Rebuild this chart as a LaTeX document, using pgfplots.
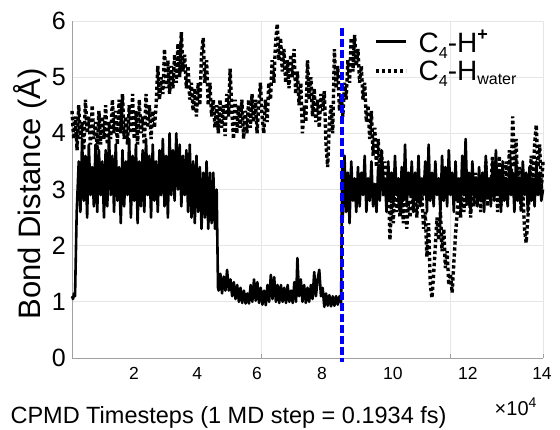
\documentclass[border=0pt]{standalone}
\usepackage{fontspec}
\setmainfont{Liberation Sans}
\usepackage{pgfplots}
\pgfplotsset{compat=1.18}
\definecolor{gridc}{RGB}{230,230,230}
\definecolor{axc}{RGB}{160,160,160}
\newcommand{\fs}[1]{\fontsize{#1}{#1}\selectfont}
\begin{document}
\begin{tikzpicture}
\path[use as bounding box] (0,0) rectangle (560pt,430pt);
\begin{axis}[
  at={(72pt,72pt)}, anchor=south west,
  width=471pt, height=337pt, scale only axis,
  xmin=0, xmax=14, ymin=0, ymax=6,
  clip=false,
  axis x line*=bottom, axis y line*=left,
  axis line style={-, draw=axc, line width=0.9pt},
  xtick={1.84,3.72,5.50,7.43,9.54,11.77,13.97},
  xticklabels={2,4,6,8,10,12,14},
  ytick={0,1,2,3,4,5,6},
  yticklabels={0,1,2,3,4,5,6},
  major tick length=0pt,
  extra x ticks={5.62,11.24,14},
  extra x tick labels={},
  extra x tick style={grid=major, major tick length=4pt, tick style={draw=axc}},
  ymajorgrids,
  grid style={draw=gridc, line width=0.9pt},
  xticklabel style={font=\fs{17.5}, inner sep=0pt, yshift=-9pt},
  yticklabel style={font=\fs{25}, inner sep=0pt, xshift=-6pt},
  ylabel={Bond Distance (Å)},
  ylabel style={font=\fs{31}, at={(axis description cs:-0.089,0.487)}, anchor=center},
  xlabel={CPMD Timesteps (1 MD step = 0.1934 fs)},
  xlabel style={font=\fs{23.5}, at={(axis description cs:-0.138,-0.193)}, anchor=base west},
  legend style={draw=none, fill=none, at={(axis description cs:0.635,0.987)}, anchor=north west, font=\fs{28}, row sep=3pt, column sep=9pt},
  legend cell align=left,
  legend image code/.code={\draw[#1] (0pt,0pt) -- (30pt,0pt);},
]
\addplot[black, line width=2.6pt, line join=round] coordinates {
(0.00,1.10) (0.03,1.05) (0.06,1.15) (0.09,1.10) (0.14,2.60)
(0.20,3.5) (0.25,2.6) (0.30,3.9) (0.35,2.8) (0.40,3.6) (0.45,2.5) (0.50,3.8) (0.55,2.9) (0.60,3.4) (0.65,2.7)
(0.70,3.8) (0.75,2.6) (0.80,3.7) (0.85,2.9) (0.90,3.5) (0.95,2.5) (1.00,3.7) (1.05,2.7) (1.10,4.0) (1.15,2.9)
(1.20,3.6) (1.25,2.6) (1.30,3.8) (1.35,2.8) (1.40,3.4) (1.45,2.4) (1.50,3.7) (1.55,2.7) (1.60,3.5) (1.65,2.9)
(1.70,3.9) (1.75,2.5) (1.80,3.6) (1.85,2.8) (1.90,3.8) (1.95,2.4) (2.00,3.5) (2.05,2.7) (2.10,3.7) (2.15,2.6)
(2.20,3.9) (2.25,2.9) (2.30,3.6) (2.35,2.5) (2.40,3.8) (2.45,2.8) (2.50,3.5) (2.55,2.6) (2.60,3.7) (2.65,2.9)
(2.70,3.9) (2.75,2.7) (2.80,3.6) (2.85,2.5) (2.90,4.0) (2.95,2.9) (3.00,3.7) (3.05,2.8) (3.10,4.0) (3.15,3.0)
(3.20,3.8) (3.25,2.7) (3.30,3.6) (3.35,2.9) (3.40,3.7) (3.45,2.6) (3.50,3.8) (3.55,2.5) (3.60,3.5) (3.65,2.4)
(3.70,3.6) (3.75,2.6) (3.80,3.4) (3.85,2.3) (3.90,3.3) (3.95,2.5) (4.00,3.5) (4.05,2.3) (4.10,3.3) (4.15,2.4)
(4.20,3.3) (4.25,2.3) (4.30,3.0) (4.34,1.25)
(4.36,1.2) (4.41,1.5) (4.46,1.15) (4.51,1.45) (4.56,1.2) (4.61,1.57) (4.66,1.2) (4.71,1.4) (4.76,1.1) (4.81,1.35)
(4.86,1.05) (4.91,1.3) (4.96,1.0) (5.01,1.25) (5.06,0.98) (5.11,1.2) (5.16,0.97) (5.21,1.15) (5.26,0.97) (5.31,1.3)
(5.36,1.0) (5.41,1.4) (5.46,1.02) (5.51,1.35) (5.56,0.98) (5.61,1.25) (5.66,0.95) (5.71,1.2) (5.76,0.94) (5.81,1.3)
(5.86,1.0) (5.91,1.48) (5.96,1.05) (6.01,1.44) (6.06,1.0) (6.11,1.3) (6.16,0.98) (6.21,1.3) (6.26,1.0) (6.31,1.25)
(6.36,0.98) (6.41,1.3) (6.46,1.0) (6.51,1.2) (6.56,0.98) (6.61,1.35) (6.66,1.0) (6.70,1.78) (6.75,1.1) (6.80,1.4)
(6.85,1.0) (6.90,1.3) (6.95,0.98) (7.00,1.25) (7.05,1.0) (7.10,1.3) (7.15,1.05) (7.20,1.53) (7.25,1.1) (7.30,1.4)
(7.35,1.57) (7.40,1.1) (7.45,1.25) (7.50,0.91) (7.55,1.15) (7.60,0.93) (7.65,1.12) (7.70,0.92) (7.75,1.1) (7.80,0.93)
(7.85,1.1) (7.90,0.95) (7.95,1.1) (8.00,0.98) (8.03,3.5)
(8.05,2.5) (8.10,3.6) (8.15,2.6) (8.20,3.3) (8.25,2.4) (8.30,3.5) (8.35,2.8) (8.40,3.2) (8.45,2.6) (8.50,3.4)
(8.55,2.7) (8.60,3.3) (8.65,2.9) (8.70,3.6) (8.75,2.6) (8.80,3.2) (8.85,2.8) (8.90,3.5) (8.95,2.7) (9.00,3.1)
(9.05,2.6) (9.10,3.4) (9.15,2.8) (9.20,3.7) (9.25,2.9) (9.30,3.2) (9.35,2.6) (9.40,3.5) (9.45,2.8) (9.50,3.3)
(9.55,2.7) (9.60,3.6) (9.65,2.9) (9.70,3.2) (9.75,2.6) (9.80,3.4) (9.85,2.8) (9.90,3.8) (9.95,2.7) (10.00,3.3)
(10.05,2.9) (10.10,3.5) (10.15,2.6) (10.20,3.3) (10.25,2.8) (10.30,3.6) (10.35,2.7) (10.40,3.2) (10.45,2.9) (10.50,3.5)
(10.55,2.6) (10.60,3.8) (10.65,2.8) (10.70,3.3) (10.75,2.7) (10.80,3.5) (10.85,2.9) (10.90,3.2) (10.95,2.6) (11.00,3.6)
(11.05,2.8) (11.10,3.4) (11.15,2.7) (11.20,3.7) (11.25,2.9) (11.30,3.3) (11.35,2.6) (11.40,3.5) (11.45,2.8) (11.50,3.2)
(11.55,2.7) (11.60,3.6) (11.65,2.9) (11.70,3.9) (11.75,2.8) (11.80,3.3) (11.85,2.6) (11.90,3.5) (11.95,2.9) (12.00,3.2)
(12.05,2.7) (12.10,3.4) (12.15,2.8) (12.20,3.3) (12.25,2.6) (12.30,3.6) (12.35,2.9) (12.40,3.2) (12.45,2.7) (12.50,3.5)
(12.55,2.8) (12.60,3.7) (12.65,2.9) (12.70,3.3) (12.75,2.6) (12.80,3.5) (12.85,2.8) (12.90,3.2) (12.95,2.7) (13.00,3.4)
(13.05,2.9) (13.10,3.3) (13.15,2.6) (13.20,3.6) (13.25,2.8) (13.30,3.2) (13.35,2.7) (13.40,3.5) (13.45,2.9) (13.50,3.3)
(13.55,2.6) (13.60,3.4) (13.65,2.8) (13.70,3.2) (13.75,2.7) (13.80,3.5) (13.85,2.9) (13.90,3.3) (13.95,2.8) (14.00,3.0)
};
\addlegendentry{C\raisebox{-6pt}{\fs{16}4}-H\raisebox{12pt}{\fs{18}\bfseries +}}
\addplot[black, line width=3.4pt, dash pattern=on 3.4pt off 2.6pt] coordinates {
(0.00,4.4) (0.05,3.9) (0.10,4.3) (0.15,3.7) (0.20,4.5) (0.25,3.9) (0.30,4.2) (0.35,3.7) (0.40,4.6) (0.45,4.0)
(0.50,4.3) (0.55,3.8) (0.60,4.5) (0.65,3.9) (0.70,4.2) (0.75,3.7) (0.80,4.4) (0.85,3.8) (0.90,4.3) (0.95,3.9)
(1.00,4.5) (1.05,3.8) (1.10,4.2) (1.15,3.9) (1.20,4.6) (1.25,4.0) (1.30,4.4) (1.35,3.8) (1.40,4.6) (1.45,4.0)
(1.50,4.7) (1.55,3.9) (1.60,4.3) (1.65,3.8) (1.70,4.5) (1.75,4.0) (1.80,4.7) (1.85,3.9) (1.90,4.4) (1.95,3.8)
(2.00,4.6) (2.05,4.0) (2.10,4.3) (2.15,3.8) (2.20,4.7) (2.25,4.1) (2.30,4.5) (2.35,3.9) (2.40,4.4) (2.45,4.1)
(2.50,4.5)
(2.55,5.2) (2.60,4.6) (2.65,5.0) (2.70,4.7) (2.75,5.5) (2.80,4.8) (2.85,5.3) (2.90,4.7) (2.95,5.2) (3.00,4.8)
(3.05,5.4) (3.10,4.9) (3.15,5.6) (3.20,5.0) (3.25,5.8) (3.30,5.1) (3.35,5.4) (3.40,4.8) (3.45,5.2) (3.50,4.6)
(3.55,4.9) (3.60,4.4) (3.65,4.8) (3.70,4.3) (3.75,4.9) (3.80,4.5) (3.85,5.4) (3.90,5.7) (3.95,4.9) (4.00,5.3)
(4.05,4.5) (4.10,4.9) (4.15,4.3) (4.20,4.6) (4.25,4.1) (4.30,4.5)
(4.35,4.0) (4.40,4.6) (4.45,4.1) (4.50,4.5) (4.55,3.95) (4.60,4.7) (4.65,4.3) (4.70,5.15) (4.75,4.4) (4.80,3.9)
(4.85,4.6) (4.90,4.0) (4.95,4.5) (5.00,4.1) (5.05,4.6) (5.10,3.9) (5.15,4.4) (5.20,4.0) (5.25,4.6) (5.30,4.1)
(5.35,4.7) (5.40,4.2) (5.45,4.6) (5.50,4.0) (5.55,4.5) (5.60,4.9) (5.65,4.3) (5.70,4.0) (5.75,4.6) (5.80,4.2)
(5.85,4.9)
(5.90,4.6) (5.95,5.3) (6.00,4.9) (6.05,5.6) (6.10,5.95) (6.15,5.3) (6.20,5.7) (6.25,5.1) (6.30,5.5) (6.35,4.9)
(6.40,5.3) (6.45,4.8) (6.50,5.4) (6.55,5.0) (6.60,5.5) (6.65,4.7) (6.70,5.1) (6.75,4.5) (6.80,4.9) (6.85,4.0)
(6.90,4.5) (6.95,4.2) (7.00,5.3) (7.05,4.6) (7.10,5.0) (7.15,4.3) (7.20,4.8) (7.25,4.2) (7.30,4.6) (7.35,4.1)
(7.40,4.7) (7.45,4.4) (7.50,4.75) (7.55,3.8) (7.60,3.4) (7.65,4.2) (7.70,4.5) (7.75,4.0) (7.80,5.5) (7.85,4.8)
(7.90,5.2) (7.95,4.4) (8.00,4.7)
(8.05,4.3) (8.10,4.9) (8.15,4.6) (8.20,5.3) (8.25,4.9) (8.30,5.7) (8.35,5.1) (8.40,5.75) (8.45,5.2) (8.50,5.5)
(8.55,4.9) (8.60,5.2) (8.65,4.6) (8.70,4.9) (8.75,4.2) (8.80,4.5) (8.85,3.9) (8.90,4.4) (8.95,3.6) (9.00,4.1)
(9.05,3.4) (9.10,3.9) (9.15,3.3) (9.20,3.7) (9.25,3.1) (9.30,3.5) (9.35,2.9) (9.40,3.3)
(9.45,2.1) (9.50,2.8) (9.55,2.4) (9.60,3.2) (9.65,2.6) (9.70,3.0) (9.75,2.5) (9.80,2.9) (9.85,2.4) (9.90,3.1)
(9.95,2.3) (10.00,2.8) (10.05,2.5) (10.10,3.1) (10.15,2.6) (10.20,3.0) (10.25,2.5) (10.30,3.2) (10.35,2.7) (10.40,2.9)
(10.45,2.3) (10.50,2.6) (10.55,1.8) (10.60,2.4) (10.65,1.3) (10.70,1.07) (10.75,1.5) (10.80,2.0) (10.85,2.5) (10.90,2.1)
(10.95,2.6) (11.00,1.9) (11.05,2.3) (11.10,1.6) (11.15,1.9) (11.20,1.3) (11.25,1.5) (11.30,1.16) (11.35,1.7) (11.40,2.2)
(11.45,2.6) (11.50,2.9) (11.55,2.5) (11.60,3.1) (11.65,2.6) (11.70,3.2) (11.75,2.7) (11.80,3.0) (11.85,2.5) (11.90,3.1)
(11.95,2.7) (12.00,3.3) (12.05,2.8) (12.10,3.1) (12.15,2.6) (12.20,3.3) (12.25,2.8) (12.30,3.5) (12.35,2.7) (12.40,3.2)
(12.45,2.9) (12.50,3.6) (12.55,2.8) (12.60,3.4) (12.65,2.6) (12.70,3.6) (12.75,2.7) (12.80,3.2) (12.85,2.8) (12.90,3.5)
(12.95,3.0) (13.00,3.7) (13.05,3.1) (13.10,4.3) (13.15,3.4) (13.20,3.9) (13.25,2.9) (13.30,3.4) (13.35,2.6) (13.40,3.0)
(13.45,2.3) (13.50,2.05) (13.55,2.5) (13.60,3.0) (13.65,3.6) (13.70,3.1) (13.75,3.8) (13.80,4.15) (13.85,3.4) (13.90,3.8)
(13.95,3.0) (14.00,3.5)
};
\addlegendentry{C\raisebox{-6pt}{\fs{16}4}-H\raisebox{-4pt}{\fs{16}water}}
\addplot[blue, line width=4.5pt, dash pattern=on 8pt off 3pt, forget plot] coordinates {(8.03,5.88) (8.03,-0.08)};
\node[anchor=base west, font=\fs{20}] at (axis description cs:0.89,-0.172) {×10\raisebox{8pt}{\fs{14}4}};
\end{axis}
\end{tikzpicture}
\end{document}
